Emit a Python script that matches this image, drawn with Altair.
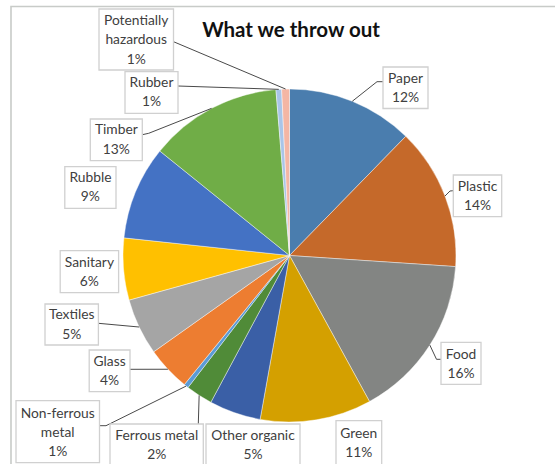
import altair as alt
import pandas as pd

# ---------------- data ----------------
categories = ["Paper", "Plastic", "Food", "Green", "Other organic", "Ferrous metal",
              "Non-ferrous metal", "Glass", "Textiles", "Sanitary", "Rubble", "Timber",
              "Rubber", "Potentially hazardous"]
shares = [12.3, 13.75, 15.95, 10.8, 5.0, 2.6, 0.45, 4.3, 5.5, 6.0, 9.1, 12.9, 0.55, 0.75]
pct_labels = ["12%", "14%", "16%", "11%", "5%", "2%", "1%", "4%", "5%", "6%", "9%", "13%", "1%", "1%"]
name_lines = ["Paper", "Plastic", "Food", "Green", "Other organic", "Ferrous metal",
              "Non-ferrous\nmetal", "Glass", "Textiles", "Sanitary", "Rubble", "Timber",
              "Rubber", "Potentially\nhazardous"]

# ---------------- styles / layout ----------------
colors = ["#4A7DAE", "#C5692A", "#838583", "#D4A000", "#3A5FA6", "#508B38",
          "#5B9BD5", "#ED7D31", "#A5A5A5", "#FFC000", "#4472C4", "#70AD47",
          "#A9C5E8", "#F4B6A4"]
CX, CY, R = 289.5, 255.5, 166.5
FONT = "Lato"

# label box layout: x0, x1, y0, y1, text x, first-line y
box_layout = {
    "Paper": (383, 428, 67, 108.5, 405.5, 79),
    "Plastic": (453.3, 501.7, 175, 216.7, 477.5, 187),
    "Food": (441, 481, 342.3, 384.3, 461, 354.5),
    "Green": (336, 381.7, 420.7, 472, 358.8, 433.5),
    "Other organic": (206, 300, 424, 472, 253, 436),
    "Ferrous metal": (110, 203.3, 424, 472, 156.7, 436),
    "Non-ferrous metal": (16, 99.5, 400.7, 462.7, 57.7, 413.5),
    "Glass": (89.2, 130, 350, 391.7, 109.6, 362),
    "Textiles": (45, 98.4, 304, 345, 71.7, 315.3),
    "Sanitary": (60.2, 118.6, 250.7, 292.7, 89.4, 262.5),
    "Rubble": (64.8, 116, 166.7, 208.3, 90.4, 177.5),
    "Timber": (90.3, 142.3, 119, 160.7, 116.3, 130.3),
    "Rubber": (125, 178, 71.7, 113.3, 151.5, 82.5),
    "Potentially hazardous": (99, 173.5, 9, 70, 136.2, 21),
}
# leader: box attach point (ax, ay) and elbow (ex, ey)
leader_layout = {
    "Paper": (383, 81.7, 377, 81.7),
    "Plastic": (453.3, 190.7, 450, 191),
    "Food": (441, 359.3, 436.5, 359.3),
    "Ferrous metal": (198.3, 424, 198.3, 424),
    "Non-ferrous metal": (99.5, 425.7, 106, 425.7),
    "Glass": (130, 369.3, 130, 369.3),
    "Textiles": (98.4, 323.3, 98.4, 323.3),
    "Timber": (142.3, 134.7, 148.7, 133.3),
    "Rubber": (178, 86, 178, 86),
    "Potentially hazardous": (173.5, 41.7, 173.5, 41.7),
}

df = pd.DataFrame({
    "cat": categories,
    "share": shares,
    "order": list(range(len(categories))),
    "label": [n + "\n" + p for n, p in zip(name_lines, pct_labels)],
})
for i, key in enumerate(["x0", "x1", "y0", "y1", "tx", "ty"]):
    df[key] = [box_layout[c][i] for c in categories]
for i, key in enumerate(["ax", "ay", "ex", "ey"]):
    df[key] = [leader_layout[c][i] if c in leader_layout else 0 for c in categories]
df["has_leader"] = [c in leader_layout for c in categories]

base = alt.Chart(df)

pie = base.mark_arc(outerRadius=R, stroke="#ffffff", strokeWidth=0.6, strokeOpacity=0.7).encode(
    theta=alt.Theta("share:Q", stack=True),
    color=alt.Color("cat:N", scale=alt.Scale(domain=categories, range=colors), legend=None),
    order=alt.Order("order:Q"),
    x=alt.value(CX),
    y=alt.value(CY),
)

leader_outer = base.transform_joinaggregate(
    total="sum(share)"
).transform_window(
    cum="sum(share)", sort=[alt.SortField("order")], frame=[None, 0]
).transform_calculate(
    mid="(datum.cum - datum.share / 2) / datum.total * 2 * PI",
    px=f"{CX} + {R} * sin(datum.mid)",
    py=f"{CY} - {R} * cos(datum.mid)",
).transform_filter("datum.has_leader").mark_rule(color="#4a4a4a", strokeWidth=1).encode(
    x=alt.X("ex:Q", scale=None, axis=None),
    y=alt.Y("ey:Q", scale=None, axis=None),
    x2="px:Q",
    y2="py:Q",
)

leader_inner = base.transform_filter("datum.has_leader").mark_rule(color="#4a4a4a", strokeWidth=1).encode(
    x=alt.X("ax:Q", scale=None, axis=None),
    y=alt.Y("ay:Q", scale=None, axis=None),
    x2="ex:Q",
    y2="ey:Q",
)

boxes = base.mark_rect(fill="#ffffff", stroke="#D0D0D0", strokeWidth=1.3).encode(
    x=alt.X("x0:Q", scale=None, axis=None),
    x2="x1:Q",
    y=alt.Y("y0:Q", scale=None, axis=None),
    y2="y1:Q",
)

texts = base.mark_text(font=FONT, fontSize=13.8, color="#404040", lineBreak="\n",
                       lineHeight=19.3, align="center", baseline="middle").encode(
    x=alt.X("tx:Q", scale=None, axis=None),
    y=alt.Y("ty:Q", scale=None, axis=None),
    text="label:N",
)

frame = alt.Chart(pd.DataFrame({"k": [0]})).mark_rect(
    fill=None, stroke="#C8CBC8", strokeWidth=1.6
).encode(
    x=alt.value(11), x2=alt.value(620), y=alt.value(6.5), y2=alt.value(620)
)

title = alt.Chart(pd.DataFrame({"t": ["What we throw out"]})).mark_text(
    font=FONT, fontSize=20.5, fontWeight="bold", color="#111111", align="center", baseline="middle"
).encode(text="t:N", x=alt.value(291), y=alt.value(31))

chart = alt.layer(frame, pie, leader_outer, leader_inner, boxes, texts, title).properties(
    width=555, height=464, padding=0, autosize=alt.AutoSizeParams(type="none")
).configure_view(stroke=None)

chart.save("out.html", embed_options={"renderer": "svg", "actions": False})
